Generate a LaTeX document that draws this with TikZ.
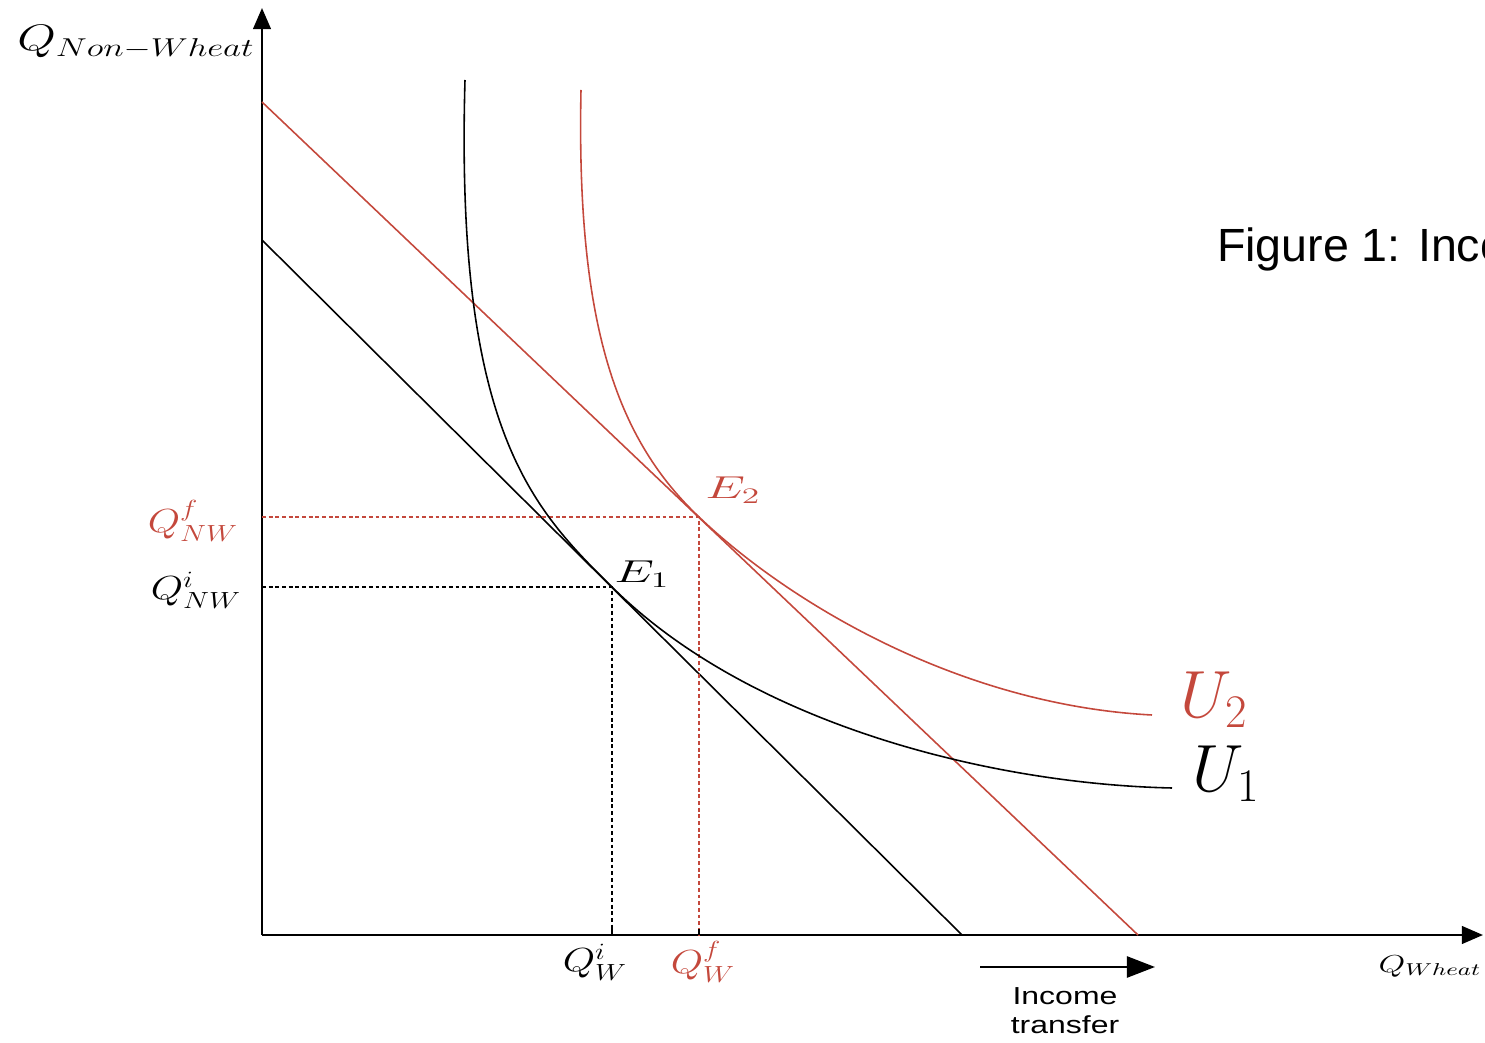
\RequirePackage{fix-cm}
\documentclass[tikz,border=0pt]{standalone}
\usepackage{fontspec}
\usepackage{amsmath}
\newfontfamily\icsans{Liberation Sans}
\usetikzlibrary{arrows.meta,positioning}
\definecolor{icred}{RGB}{196,72,60}
\newcommand{\icwide}[2]{\scalebox{#1}[1]{#2}}
\tikzset{
  icaxis/.style={-{Triangle[length=12pt,width=10pt]},line width=1.4pt},
  icbudget/.style={line width=0.9pt},
  iccurve/.style={line width=0.9pt},
  icguide/.style={dash pattern=on 2.2pt off 1.6pt,line width=0.6pt},
  ictick/.style={line width=0.8pt},
  icshift/.style={-{Triangle[length=16pt,width=12pt]},line width=1.4pt},
  icmath/.style={inner sep=1pt,font=\fontsize{19}{23}\selectfont},
  icbig/.style={inner sep=1pt,font=\fontsize{38}{42}\selectfont},
  icnote/.style={inner sep=1pt,font=\icsans\fontsize{14}{17}\selectfont}
}
\begin{document}
\begin{tikzpicture}[x=0.02cm,y=-0.02cm]
\clip (0,0) rectangle (1485,1043);
% axes
\coordinate (O) at (262,935);
\coordinate (ytop) at (262,8);
\coordinate (xend) at (1483,935);
\draw[icaxis] (O) -- (ytop);
\draw[icaxis] (O) -- (xend);
\node[icmath,font=\fontsize{21}{25}\selectfont] (lqnw) at (136,42) {\icwide{1.35}{$Q_{Non-Wheat}$}};
\node[icmath,font=\fontsize{14}{17}\selectfont] (lqw) at (1430,966) {\icwide{1.4}{$Q_{Wheat}$}};

% budget lines
\coordinate (b1) at (262,240);
\coordinate (b1x) at (962,935);
\coordinate (b2) at (262,102);
\coordinate (b2x) at (1138,935);
\draw[icbudget] (b1) -- (b1x);
\draw[icbudget,icred] (b2) -- (b2x);

% equilibria and guides
\coordinate (E1) at (612,587);
\coordinate (E2) at (699,517);
\coordinate (nwi) at (262,587);
\coordinate (nwf) at (262,517);
\coordinate (wi) at (612,935);
\coordinate (wf) at (699,935);
\draw[icguide] (nwi) -- (E1) -- (wi);
\draw[icguide,icred] (nwf) -- (E2) -- (wf);
\draw[ictick] (wi) -- ++(0,-6);
\draw[ictick] (wf) -- ++(0,-6);

% indifference curves
\coordinate (u1top) at (465,80);
\coordinate (u1end) at (1172,788);
\coordinate (u2top) at (581,90);
\coordinate (u2end) at (1152,715);
\draw[iccurve] (u1top) .. controls (455,430) and (532,508) .. (E1)
  .. controls (750,724) and (990,784) .. (u1end);
\draw[iccurve,icred] (u2top) .. controls (576,330) and (619,441) .. (E2)
  .. controls (789,603) and (960,705) .. (u2end);

% labels
\node[icmath,icred] (lqnwf) at (193,521) {\icwide{1.25}{$Q^f_{NW}$}};
\node[icmath] (lqnwi) at (196,590) {\icwide{1.25}{$Q^i_{NW}$}};
\node[icmath] (lqwi) at (595,962) {\icwide{1.25}{$Q^i_W$}};
\node[icmath,icred] (lqwf) at (703,962) {\icwide{1.25}{$Q^f_W$}};
\node[icmath,font=\fontsize{18}{22}\selectfont] (le1) at (642,574) {\icwide{1.6}{$E_1$}};
\node[icmath,icred,font=\fontsize{18}{22}\selectfont] (le2) at (733,490) {\icwide{1.6}{$E_2$}};
\node[icbig,icred] (lu2) at (1214,700) {$U_2$};
\node[icbig] (lu1) at (1226,774) {$U_1$};

% income transfer
\coordinate (itail) at (980,967);
\coordinate (ihead) at (1155,967);
\draw[icshift] (itail) -- (ihead);
\node[icnote] (lincome) at (1065,1013) {\icwide{1.3}{\begin{tabular}{@{}c@{}}Income\\transfer\end{tabular}}};
\node[icnote,font=\icsans\fontsize{26.5}{30}\selectfont,anchor=base west] (lfig) at (1215,262) {Figure 1: Income};
\end{tikzpicture}
\end{document}
